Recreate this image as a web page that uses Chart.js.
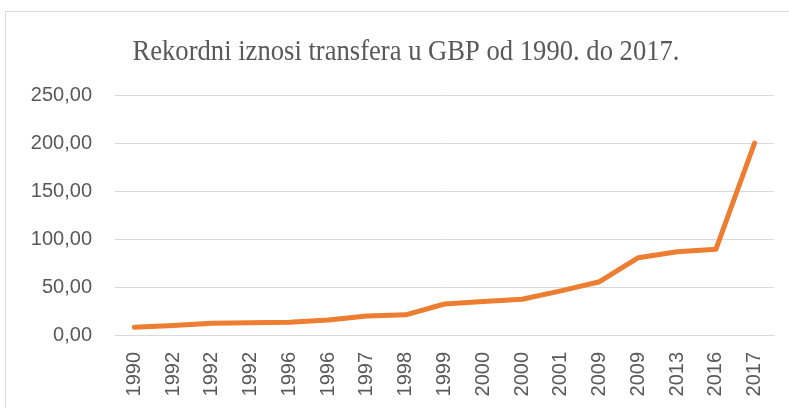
<!DOCTYPE html>
<html>
<head>
<meta charset="utf-8">
<script src="https://cdn.jsdelivr.net/npm/chart.js@4/dist/chart.umd.min.js"></script>
<style>
  html, body { margin: 0; padding: 0; background: #fff; }
  #wrap { width: 789px; height: 408px; }
</style>
</head>
<body>
<div id="wrap"><canvas id="transferChart" width="789" height="408"></canvas></div>
<script>
// Podaci
const godine = ['1990', '1992', '1992', '1992', '1996', '1996', '1997', '1998', '1999',
                '2000', '2000', '2001', '2009', '2009', '2013', '2016', '2017'];
const iznosi = [8, 10, 12.2, 12.8, 13.2, 15.6, 19.8, 21, 32.3,
                35, 37.2, 46, 55.5, 80.5, 86.8, 89.3, 200];
const yTicks = [0, 50, 100, 150, 200, 250];
const naslov = 'Rekordni iznosi transfera u GBP od 1990. do 2017.';

const fmt = v => new Intl.NumberFormat('hr-HR', { minimumFractionDigits: 2, maximumFractionDigits: 2 }).format(v);

// okvir + naslov (naslov je malo sužen kao u originalu)
const framePlugin = {
    id: 'frame',
    beforeDraw(chart) {
        const c = chart.ctx;
        c.save();
        c.fillStyle = '#fff';
        c.fillRect(0, 0, chart.width, chart.height);
        c.strokeStyle = '#d9d9d9';
        c.lineWidth = 1;
        c.strokeRect(5.5, 11.5, 800, 420);
        c.restore();
    },
    afterDraw(chart) {
        const c = chart.ctx;
        c.save();
        c.font = '30px "Liberation Serif", "Times New Roman", serif';
        c.fillStyle = '#595959';
        c.textBaseline = 'alphabetic';
        c.textAlign = 'center';
        const w = c.measureText(naslov).width;
        const sx = 547 / w;
        c.translate(406, 60);
        c.scale(sx, 1);
        c.fillText(naslov, 0, 0);
        c.restore();
    }
};

const ctx = document.getElementById('transferChart');
new Chart(ctx.getContext('2d'), {
    type: 'line',
    data: {
        labels: godine,
        datasets: [{
            data: iznosi,
            borderColor: '#ED7D31',
            borderWidth: 5,
            borderCapStyle: 'round',
            borderJoinStyle: 'round',
            pointRadius: 0,
            tension: 0,
            fill: false
        }]
    },
    options: {
        responsive: false,
        animation: false,
        layout: { padding: { left: 0, right: 15, top: 95, bottom: 0 } },
        plugins: {
            legend: { display: false },
            tooltip: { enabled: false },
            title: { display: false }
        },
        scales: {
            x: {
                offset: true,
                grid: { display: false, drawTicks: false },
                border: { display: true, color: '#d9d9d9', width: 1 },
                ticks: {
                    color: '#595959',
                    font: { family: '"Liberation Sans", Arial, sans-serif', size: 20 },
                    minRotation: 90,
                    maxRotation: 90,
                    autoSkip: false,
                    padding: 17
                },
                afterFit(scale) {
                    scale.height = 73;
                    scale.paddingLeft = 0;
                    scale.paddingRight = 0;
                }
            },
            y: {
                min: 0,
                max: 250,
                afterBuildTicks(scale) { scale.ticks = yTicks.map(v => ({ value: v })); },
                grid: { color: '#d9d9d9', lineWidth: 1, drawTicks: false },
                border: { display: false },
                ticks: {
                    color: '#595959',
                    font: { family: '"Liberation Sans", Arial, sans-serif', size: 20 },
                    padding: 23,
                    callback: v => fmt(v)
                },
                afterFit(scale) { scale.width = 115; }
            }
        }
    },
    plugins: [framePlugin]
});
</script>
</body>
</html>
